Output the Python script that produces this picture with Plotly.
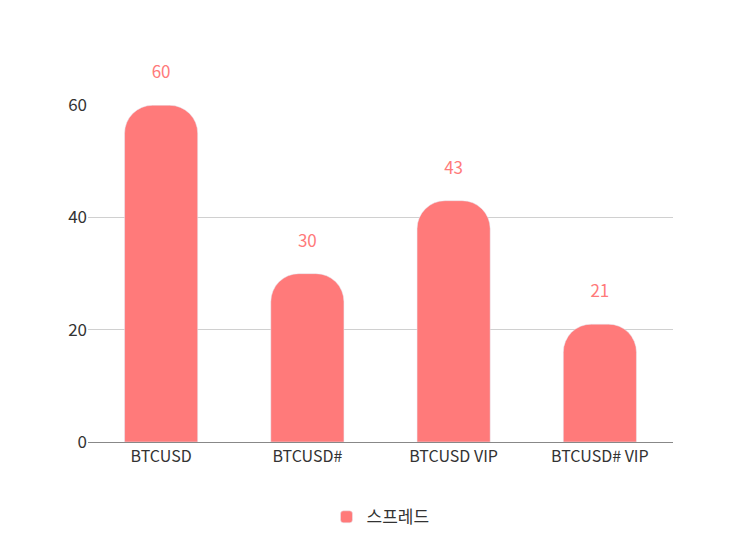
import plotly.graph_objects as go

categories = ["BTCUSD", "BTCUSD#", "BTCUSD VIP", "BTCUSD# VIP"]
values = [60, 30, 43, 21]
series_name = "스프레드"
color = "#FF7A7A"
font = "Noto Sans CJK KR"

fig = go.Figure(go.Bar(
    x=categories, y=values, name=series_name, width=0.5,
    marker=dict(color=color, cornerradius=28),
    text=values, texttemplate="%{y}<br><span style='font-size:6px'> </span>",
    textposition="outside", cliponaxis=False,
    textfont=dict(color=color, size=17, family=font),
))
fig.update_layout(
    width=743, height=550, plot_bgcolor="white", paper_bgcolor="white",
    margin=dict(l=80, r=78, t=97, b=116),
    font=dict(family=font, size=17, color="#333"),
    showlegend=True,
    legend=dict(orientation="h", x=0.5, xanchor="center", y=-0.17, yanchor="top",
                font=dict(size=17, color="#333")),
    yaxis=dict(range=[0, 60.05], tickvals=[0, 20, 40, 60], gridcolor="#d0d0d0",
               zeroline=False, ticks="", ticklen=0),
    xaxis=dict(showline=True, linecolor="#888", ticks="", tickfont=dict(size=16)),
)
fig.write_html("out.html")
